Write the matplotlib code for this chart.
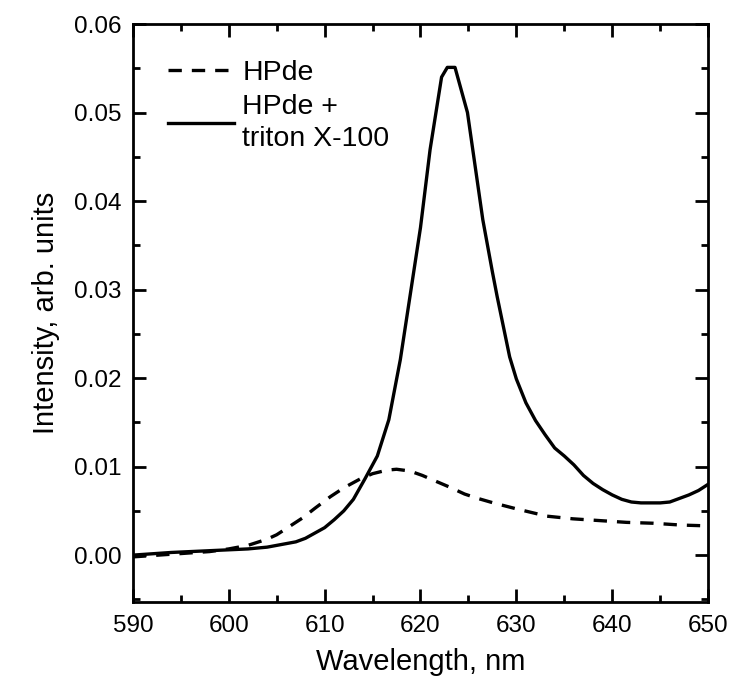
import matplotlib
matplotlib.use('Agg')
import matplotlib.pyplot as plt
from matplotlib.ticker import MultipleLocator, FormatStrFormatter

plt.rcParams['font.family'] = ['Liberation Sans', 'DejaVu Sans']

# HPde (dashed)
wl_hpde = [590, 594, 598, 600, 602, 604, 605, 606, 607.7, 609, 610.6, 612, 613.7, 615,
           616.5, 617.5, 618.9, 620.2, 621.7, 623, 624.6, 626, 627.6, 630.1, 633.2,
           635.9, 638.7, 641.5, 644.3, 647.1, 650]
int_hpde = [-0.0002, 0.0001, 0.0004, 0.0007, 0.0011, 0.0018, 0.0023, 0.0030, 0.0042, 0.0053,
            0.0066, 0.0076, 0.0086, 0.0092, 0.0096, 0.0097, 0.0095, 0.0090, 0.0083, 0.0077,
            0.0069, 0.0064, 0.0059, 0.0052, 0.0044, 0.0041, 0.0039, 0.0037, 0.0036, 0.0034,
            0.0033]

# HPde + triton X-100 (solid)
wl_triton = [590, 594, 598, 600, 602, 604, 606, 607, 608, 609, 610, 611, 612, 613, 614.2,
             615.5, 616.7, 617.9, 618.9, 620.0, 621.0, 622.2, 622.8, 623.6, 624.9, 626.5,
             627.5, 628.0, 629.3, 630, 631, 632, 633, 634, 635, 636, 637, 638, 639, 640,
             641, 642, 643, 644, 645, 646, 647, 648, 649, 650]
int_triton = [0.0000, 0.0003, 0.0005, 0.0006, 0.0007, 0.0009, 0.0013, 0.0015, 0.0019, 0.0025,
              0.0031, 0.0040, 0.0050, 0.0063, 0.0086, 0.0112, 0.0153, 0.0221, 0.0292, 0.0370,
              0.0458, 0.0540, 0.0551, 0.0551, 0.0500, 0.0379, 0.0320, 0.0292, 0.0224, 0.0199,
              0.0172, 0.0152, 0.0136, 0.0121, 0.0112, 0.0102, 0.0090, 0.0081, 0.0074, 0.0068,
              0.0063, 0.0060, 0.0059, 0.0059, 0.0059, 0.0060, 0.0064, 0.0068, 0.0073, 0.0080]

fig = plt.figure(figsize=(7.3, 6.86), dpi=100)
ax = fig.add_axes([0.182, 0.1224, 0.788, 0.8426])

ax.plot(wl_hpde, int_hpde, color='black', lw=2.4, linestyle=(0, (4.0, 3.0)), label='HPde')
ax.plot(wl_triton, int_triton, color='black', lw=2.4, label='HPde +\ntriton X-100')

ax.set_xlim(590, 650)
ax.set_ylim(-0.0053, 0.06)
ax.xaxis.set_major_locator(MultipleLocator(10))
ax.xaxis.set_minor_locator(MultipleLocator(5))
ax.yaxis.set_major_locator(MultipleLocator(0.01))
ax.yaxis.set_minor_locator(MultipleLocator(0.005))
ax.yaxis.set_major_formatter(FormatStrFormatter('%.2f'))

for s in ax.spines.values():
    s.set_linewidth(2)
ax.tick_params(which='both', direction='in', top=True, right=True, width=2, labelsize=17.5)
ax.tick_params(which='major', length=9.5)
ax.tick_params(which='minor', length=5)
ax.tick_params(axis='x', pad=9)
ax.tick_params(axis='y', pad=8)

ax.set_xlabel('Wavelength, nm', fontsize=21, labelpad=8)
ax.set_ylabel('Intensity, arb. units', fontsize=21, labelpad=10)

leg = ax.legend(loc='upper left', frameon=False, fontsize=20.5, handlelength=2.3,
                handletextpad=0.3, borderaxespad=0.85, labelspacing=0.3)
leg.get_texts()[1].set_linespacing(1.3)

fig.savefig('out.png', dpi=100)
